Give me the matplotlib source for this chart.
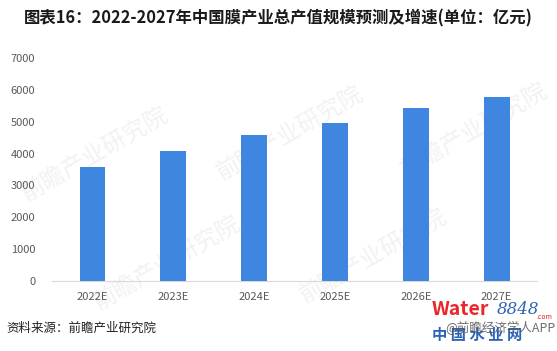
import matplotlib
matplotlib.use("Agg")
import matplotlib.pyplot as plt

plt.rcParams['font.family'] = ['Noto Sans CJK SC', 'DejaVu Sans']

categories = ["2022E", "2023E", "2024E", "2025E", "2026E", "2027E"]
values = [3580, 4080, 4580, 4960, 5430, 5775]
yticks = [0, 1000, 2000, 3000, 4000, 5000, 6000, 7000]

fig = plt.figure(figsize=(5.57, 3.51), dpi=100)
ax = fig.add_axes([0.0934, 0.1994, 0.8707, 0.6354])
ax.patch.set_alpha(0)

x = list(range(len(categories)))
ax.bar(x, values, width=0.32, color="#3f86e0", zorder=3)
ax.set_xlim(-0.5, len(categories) - 0.5)
ax.set_ylim(0, 7000)
ax.set_yticks(yticks)
ax.set_yticklabels([str(v) for v in yticks])
ax.set_xticks(x)
ax.set_xticklabels(categories)
for s in ["top", "right", "left"]:
    ax.spines[s].set_visible(False)
ax.spines["bottom"].set_color("#d9d9d9")
ax.spines["bottom"].set_linewidth(0.8)
ax.tick_params(axis="both", length=0, labelsize=8, colors="#595959")
ax.tick_params(axis="y", pad=12)
ax.tick_params(axis="x", pad=8)

# faint watermarks behind the chart
for (wx, wy) in [(0.17, 0.56), (0.52, 0.62), (0.85, 0.63), (0.30, 0.25), (0.67, 0.27)]:
    fig.text(wx, wy, "前瞻产业研究院", fontsize=17, color="#f2f2f2", rotation=30,
             ha="center", va="center", zorder=-1)

fig.text(0.5, 0.948, "图表16：2022-2027年中国膜产业总产值规模预测及增速(单位：亿元)",
         ha="center", va="center", fontsize=11.8, fontweight="bold", color="#1a1a1a")
fig.text(0.012, 0.066, "资料来源：前瞻产业研究院", ha="left", va="center",
         fontsize=9, color="#222222")
fig.text(0.775, 0.118, "Water", ha="left", va="center", fontsize=14,
         fontweight="bold", color="#e8262b")
fig.text(0.892, 0.118, "8848", ha="left", va="center", fontsize=12,
         style="italic", color="#2b63b7", family="DejaVu Serif")
fig.text(0.963, 0.097, ".com", ha="left", va="center", fontsize=5, color="#e8262b")
fig.text(0.775, 0.045, "中 国 水 业 网", ha="left", va="center", fontsize=11,
         fontweight="bold", color="#2b63b7")
fig.text(0.800, 0.066, "@前瞻经济学人APP", ha="left", va="center", fontsize=9,
         color="#555555", alpha=0.85)

fig.savefig("out.png", dpi=100)
